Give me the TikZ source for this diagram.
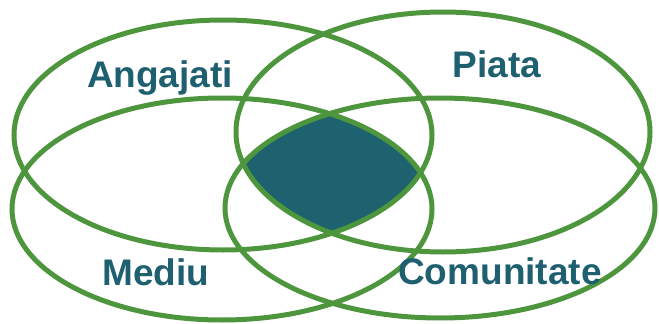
\documentclass[tikz,border=0pt]{standalone}
\usepackage{fontspec}
\setmainfont{Liberation Sans}
\definecolor{ringgreen}{RGB}{78,150,62}
\definecolor{tealfill}{RGB}{29,98,110}
\definecolor{tealtext}{RGB}{30,96,112}
\begin{document}
\begin{tikzpicture}[x=1pt,y=-1pt,
  ring/.style={draw=ringgreen,line width=5pt},
  lbl/.style={text=tealtext,font=\fontsize{37}{40}\selectfont\bfseries,anchor=base,inner sep=0pt}]
\useasboundingbox (0,0) rectangle (659,324);
% central intersection
\begin{scope}
  \clip (223,135) ellipse [x radius=209pt, y radius=115pt];
  \clip (443,132) ellipse [x radius=207pt, y radius=120pt];
  \clip (222,209) ellipse [x radius=210pt, y radius=111pt];
  \fill[tealfill] (440,208) ellipse [x radius=215pt, y radius=110pt];
\end{scope}
\draw[ring] (223,135) ellipse [x radius=209pt, y radius=115pt];
\draw[ring] (443,132) ellipse [x radius=207pt, y radius=120pt];
\draw[ring] (222,209) ellipse [x radius=210pt, y radius=111pt];
\draw[ring] (440,208) ellipse [x radius=215pt, y radius=110pt];
\node[lbl] (angajati) at (160,87) {Angajati};
\node[lbl] (piata) at (497,77) {Piata};
\node[lbl] (mediu) at (156,285) {Mediu};
\node[lbl] (comunitate) at (500,284) {Comunitate};
\end{tikzpicture}
\end{document}
